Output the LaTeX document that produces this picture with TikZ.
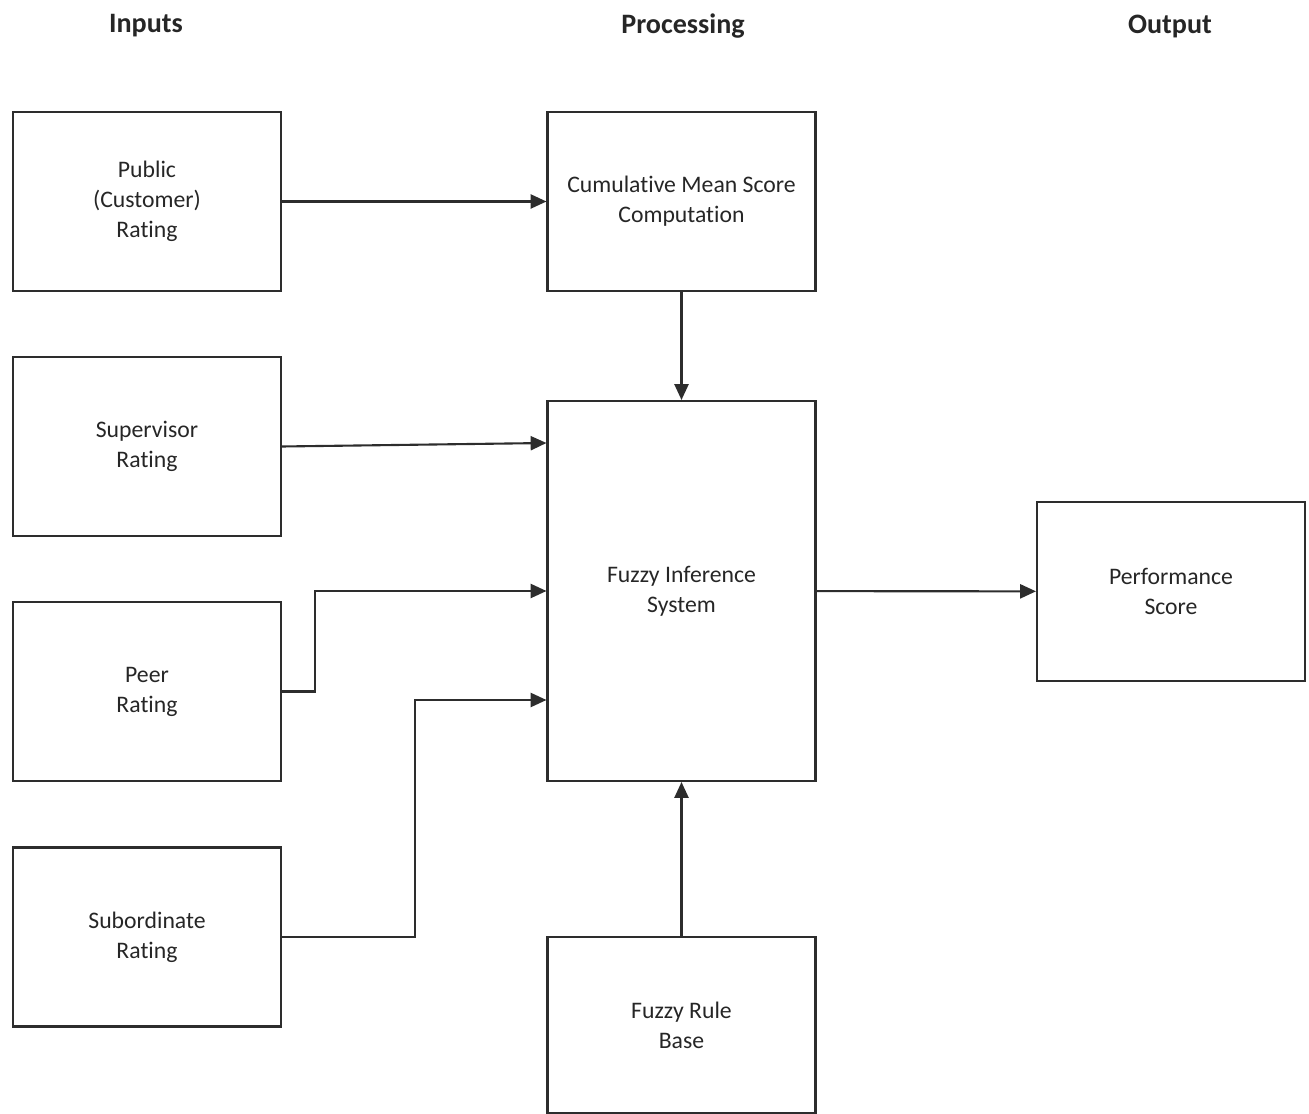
\documentclass[tikz,border=0pt]{standalone}
\usepackage{fontspec}
\setmainfont{Carlito}[Ligatures=NoCommon]
\usetikzlibrary{arrows.meta,calc,positioning}
\definecolor{linegray}{RGB}{45,45,45}
\tikzset{
  every node/.style={font=\fontsize{13.5}{17}\selectfont, text=black!85},
  head/.style={font=\fontsize{16}{19}\selectfont\bfseries},
  block/.style={draw=linegray, line width=1.2pt, align=center,
    minimum width=5.36cm, minimum height=3.58cm, inner sep=0pt},
  flow/.style={draw=linegray, line width=1.2pt,
    -{Triangle[length=9pt,width=8pt]}}
}

\begin{document}
\begin{tikzpicture}[x=0.02cm,y=-0.02cm]
  \useasboundingbox (0,0) rectangle (1309,1114);

  \node[head] (inputs) at (146,26) {Inputs};
  \node[head] (processing) at (683,26) {Processing};
  \node[head] (output) at (1170,26) {Output};

  \node[block] (public) at (147,201.5) {Public\\(Customer)\\Rating};
  \node[block] (supervisor) at (147,446.5) {Supervisor\\Rating};
  \node[block] (peer) at (147,691.5) {Peer\\Rating};
  \node[block] (subordinate) at (147,937) {Subordinate\\Rating};

  \node[block] (cms) at (681.5,201.5) {Cumulative Mean Score\\Computation};
  \node[block, minimum height=7.6cm] (fis) at (681.5,591) {Fuzzy Inference\\System};
  \node[block, minimum height=3.52cm] (rules) at (681.5,1025) {Fuzzy Rule\\Base};

  \node[block] (perf) at (1171,591.5) {Performance\\Score};

  \draw[flow] (public) -- (cms);
  \draw[flow] (cms) -- (fis);
  \draw[flow] (supervisor.east) -- ($(fis.west)+(0,-148)$);
  \draw[flow] (peer.east) -- ++(33,0) |- (fis.west);
  \draw[flow] (subordinate.east) -- ++(133,0) |- ($(fis.west)+(0,109)$);
  \draw[flow] (rules) -- (fis);
  \draw[flow] (fis) -- (perf);
\end{tikzpicture}
\end{document}
